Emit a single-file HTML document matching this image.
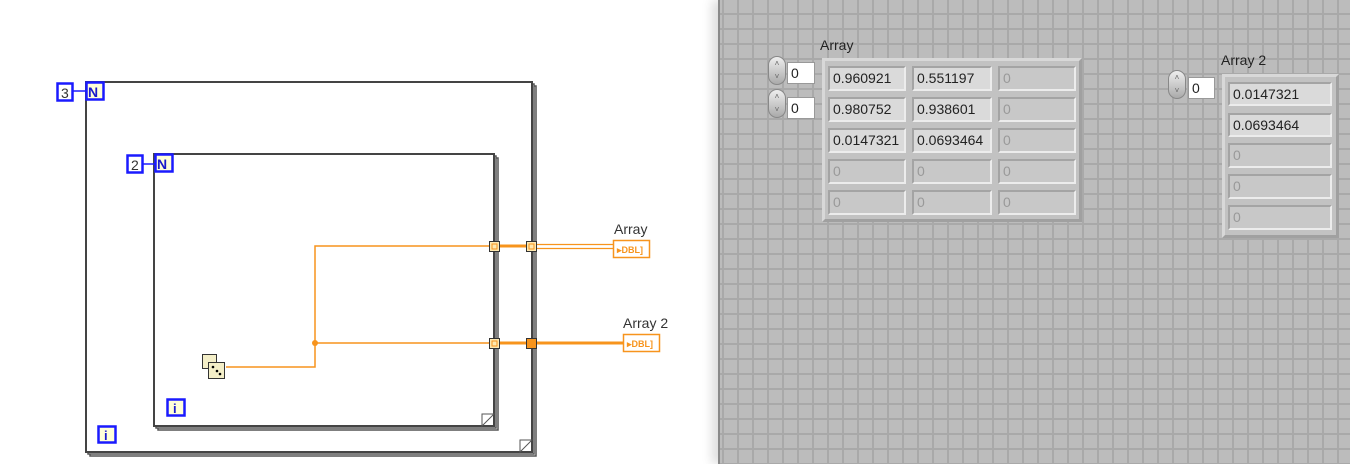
<!DOCTYPE html>
<html><head><meta charset="utf-8"><style>
body{margin:0;width:1350px;height:464px;overflow:hidden;background:#fff;position:relative;font-family:"Liberation Sans",sans-serif}
.fp{position:absolute;left:718px;top:0;width:632px;height:464px;background-color:#bcbcbc;
background-image:linear-gradient(to right,#a9a9a9 0,#a9a9a9 2px,transparent 2px),linear-gradient(to bottom,#a9a9a9 0,#a9a9a9 2px,transparent 2px);
background-size:15px 15px;background-position:2px 13px;border-left:2px solid #8a8a8a;box-shadow:-6px 0 10px #ddd}
.lbl{position:absolute;font-size:14px;color:#222}
.frame{position:absolute;background:#c2c2c2;border:3px solid;border-color:#d8d8d8 #a0a0a0 #a0a0a0 #d8d8d8;box-sizing:border-box}
.cell{position:absolute;background:#dadada;border:2px solid;border-color:#a4a4a4 #ececec #ececec #a4a4a4;box-sizing:border-box;font-size:14px;color:#222;padding:2px 0 0 3px;overflow:hidden;white-space:nowrap}
.cell.d{background:#c8c8c8;color:#999}
.idx{position:absolute;background:#fff;font-size:14px;color:#222;padding:2px 3px;box-sizing:border-box;border:1px solid #999}
.spin{position:absolute;width:18px;height:29px;border-radius:9px;background:linear-gradient(#eee,#aaa);border:1px solid #888;box-sizing:border-box;font-size:8px;color:#666;text-align:center;line-height:13px}
</style></head><body>
<svg width="718" height="464" style="position:absolute;left:0;top:0" font-family="Liberation Sans,sans-serif">
<rect x="90" y="86" width="446" height="370" fill="none" stroke="#555" stroke-width="1.5"/>
<rect x="88" y="84" width="446" height="370" fill="#fff" stroke="#555" stroke-width="1.5"/>
<rect x="86" y="82" width="446" height="370" fill="#fff" stroke="#444" stroke-width="2"/>
<path d="M520 452 L532 440 L520 440 Z" fill="#fff" stroke="#555"/>
<rect x="158" y="158" width="340" height="272" fill="none" stroke="#555" stroke-width="1.5"/>
<rect x="156" y="156" width="340" height="272" fill="#fff" stroke="#555" stroke-width="1.5"/>
<rect x="154" y="154" width="340" height="272" fill="#fff" stroke="#444" stroke-width="2"/>
<path d="M482 426 L494 414 L482 414 Z" fill="#fff" stroke="#555"/>
<line x1="73" y1="91" x2="86" y2="91" stroke="#1a1aff" stroke-width="1.5"/>
<rect x="57.5" y="83.5" width="15" height="17" fill="#fff" stroke="#1a1aff" stroke-width="2.5"/>
<text x="61" y="98" font-size="14" fill="#333">3</text>
<rect x="86.5" y="82.5" width="17" height="17" fill="#ffffd8" stroke="#1a1aff" stroke-width="2.5"/>
<text x="88" y="97" font-size="14" font-weight="bold" fill="#1a1acc">N</text>
<line x1="143" y1="164" x2="155" y2="164" stroke="#1a1aff" stroke-width="1.5"/>
<rect x="127.5" y="155.5" width="15" height="17" fill="#fff" stroke="#1a1aff" stroke-width="2.5"/>
<text x="131" y="170" font-size="14" fill="#333">2</text>
<rect x="155.5" y="154.5" width="17" height="17" fill="#ffffd8" stroke="#1a1aff" stroke-width="2.5"/>
<text x="157" y="169" font-size="14" font-weight="bold" fill="#1a1acc">N</text>
<rect x="98.5" y="426.5" width="17" height="16" fill="#ffffd8" stroke="#1a1aff" stroke-width="2.5"/>
<text x="104" y="440" font-size="13" font-weight="bold" fill="#1a1acc">i</text>
<rect x="167.5" y="399.5" width="17" height="16" fill="#ffffd8" stroke="#1a1aff" stroke-width="2.5"/>
<text x="173" y="413" font-size="13" font-weight="bold" fill="#1a1acc">i</text>
<g stroke="#f7941d" fill="none">
<path d="M226 367 H315 V246 H494" stroke-width="1.5"/>
<path d="M315 343 H494" stroke-width="1.5"/>
<path d="M494 246 H531" stroke-width="3"/>
<path d="M494 343 H531" stroke-width="3"/>
<path d="M531 244.5 H613 M531 248.5 H613" stroke-width="1.2"/>
<path d="M531 343 H623" stroke-width="3"/>
</g>
<circle cx="315" cy="343" r="3" fill="#f7941d"/>
<rect x="489.5" y="241.5" width="10" height="10" fill="#ffe9b0" stroke="#333"/><rect x="492" y="244" width="5" height="5" fill="none" stroke="#f7941d"/>
<rect x="489.5" y="338.5" width="10" height="10" fill="#ffe9b0" stroke="#333"/><rect x="492" y="341" width="5" height="5" fill="none" stroke="#f7941d"/>
<rect x="526.5" y="241.5" width="10" height="10" fill="#ffe9b0" stroke="#333"/><rect x="529" y="244" width="5" height="5" fill="none" stroke="#f7941d"/>
<rect x="526.5" y="338.5" width="10" height="10" fill="#f7941d" stroke="#333"/>
<rect x="202.5" y="354.5" width="14" height="14" fill="#f4efc8" stroke="#333"/>
<rect x="208.5" y="362.5" width="16" height="16" fill="#f4efc8" stroke="#333"/>
<circle cx="213" cy="367" r="1.3" fill="#000"/><circle cx="217" cy="371" r="1.3" fill="#000"/><circle cx="220" cy="374" r="1.3" fill="#000"/>
<text x="614" y="234" font-size="14" fill="#333">Array</text>
<rect x="613.5" y="240.5" width="36" height="17" fill="#fff" stroke="#f7941d" stroke-width="1.5"/>
<text x="617" y="253" font-size="9" font-weight="bold" fill="#f7941d">▸DBL]</text>
<text x="623" y="328" font-size="14" fill="#333">Array 2</text>
<rect x="623.5" y="334.5" width="36" height="17" fill="#fff" stroke="#f7941d" stroke-width="1.5"/>
<text x="627" y="347" font-size="9" font-weight="bold" fill="#f7941d">▸DBL]</text>
</svg>
<div class="fp"></div>
<div class="lbl" style="left:820px;top:37px">Array</div>
<div class="spin" style="left:768px;top:56px">˄<br>˅</div><div class="idx" style="left:787px;top:62px;width:28px;height:22px">0</div>
<div class="spin" style="left:768px;top:89px">˄<br>˅</div><div class="idx" style="left:787px;top:97px;width:28px;height:22px">0</div>
<div class="frame" style="left:822px;top:58px;width:260px;height:164px"></div>
<div class="cell" style="left:828px;top:66px;width:78px;height:25px">0.960921</div>
<div class="cell" style="left:912px;top:66px;width:80px;height:25px">0.551197</div>
<div class="cell d" style="left:998px;top:66px;width:78px;height:25px">0</div>
<div class="cell" style="left:828px;top:97px;width:78px;height:25px">0.980752</div>
<div class="cell" style="left:912px;top:97px;width:80px;height:25px">0.938601</div>
<div class="cell d" style="left:998px;top:97px;width:78px;height:25px">0</div>
<div class="cell" style="left:828px;top:128px;width:78px;height:25px">0.0147321</div>
<div class="cell" style="left:912px;top:128px;width:80px;height:25px">0.0693464</div>
<div class="cell d" style="left:998px;top:128px;width:78px;height:25px">0</div>
<div class="cell d" style="left:828px;top:159px;width:78px;height:25px">0</div>
<div class="cell d" style="left:912px;top:159px;width:80px;height:25px">0</div>
<div class="cell d" style="left:998px;top:159px;width:78px;height:25px">0</div>
<div class="cell d" style="left:828px;top:190px;width:78px;height:25px">0</div>
<div class="cell d" style="left:912px;top:190px;width:80px;height:25px">0</div>
<div class="cell d" style="left:998px;top:190px;width:78px;height:25px">0</div>
<div class="lbl" style="left:1221px;top:52px">Array 2</div>
<div class="spin" style="left:1168px;top:70px">˄<br>˅</div><div class="idx" style="left:1188px;top:77px;width:27px;height:22px">0</div>
<div class="frame" style="left:1222px;top:74px;width:117px;height:164px"></div>
<div class="cell" style="left:1228px;top:82px;width:104px;height:24px">0.0147321</div>
<div class="cell" style="left:1228px;top:113px;width:104px;height:24px">0.0693464</div>
<div class="cell d" style="left:1228px;top:143px;width:104px;height:25px">0</div>
<div class="cell d" style="left:1228px;top:174px;width:104px;height:25px">0</div>
<div class="cell d" style="left:1228px;top:205px;width:104px;height:25px">0</div>
</body></html>
